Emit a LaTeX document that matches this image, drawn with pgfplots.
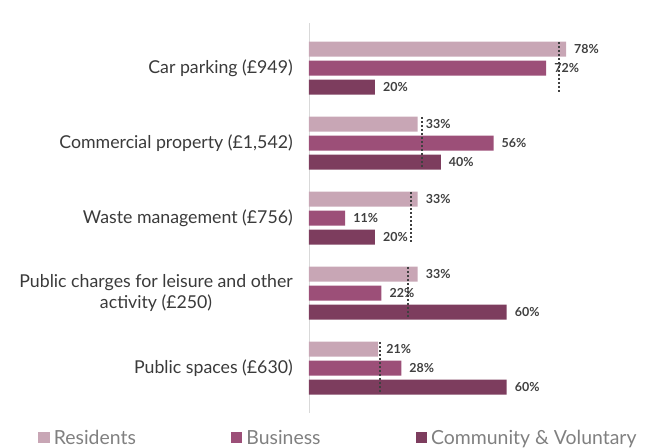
\documentclass[border=0pt]{standalone}
\usepackage{pgfplots}
\pgfplotsset{compat=1.18}
\usepackage{fontspec}
\setmainfont{Lato}

\definecolor{resid}{HTML}{C8A6B5}
\definecolor{busin}{HTML}{9C4F78}
\definecolor{commu}{HTML}{7D3D5E}
\definecolor{labtxt}{HTML}{3A3A3A}
\definecolor{valtxt}{HTML}{404040}
\definecolor{legtxt}{HTML}{808080}

\begin{document}
\begin{tikzpicture}
\begin{axis}[
    name=ax,
    scale only axis,
    width=329.5bp, height=390bp,
    xbar, bar width=15bp,
    xmin=0, xmax=100,
    ymin=-0.6, ymax=4.6,
    y dir=reverse,
    hide x axis,
    axis y line*=left,
    y axis line style={draw=black!15, line width=0.8bp},
    ytick={0,1,2,3,4},
    yticklabels={{Car parking (£949)},{Commercial property (£1,542)},{Waste management (£756)},{Public charges for leisure and other\\activity (£250)},{Public spaces (£630)}},
    yticklabel style={font=\fontsize{17.8}{22}\selectfont, text=labtxt, align=center, inner sep=0pt, xshift=-16bp},
    major tick length=0pt,
    y tick style={draw=none},
    nodes near coords={\pgfmathprintnumber[assume math mode=true]{\pgfplotspointmeta}\%},
    nodes near coords style={font=\fontsize{12.5}{14}\selectfont\bfseries, text=valtxt, anchor=west, inner sep=0pt, xshift=8bp},
    legend columns=3,
    legend style={draw=none, fill=none, inner sep=0pt, anchor=west, at={(-0.822,-0.0655)},
        font=\fontsize{19.5}{21}\selectfont, text=legtxt,
        /tikz/every odd column/.append style={column sep=2bp},
        /tikz/every even column/.append style={column sep=93bp}},
    legend image code/.code={\fill[#1] (0bp,-4.5bp) rectangle (11.5bp,6.5bp);},
]
\addplot[fill=resid, draw=none, bar shift=19bp] coordinates {(78,0) (33,1) (33,2) (33,3) (21,4)};
\addplot[fill=busin, draw=none, bar shift=0bp] coordinates {(72,0) (56,1) (11,2) (22,3) (28,4)};
\addplot[fill=commu, draw=none, bar shift=-19bp] coordinates {(20,0) (40,1) (20,2) (60,3) (60,4)};
\legend{Residents,Business,Community \& Voluntary}

% average markers
\addplot[forget plot, sharp plot, no marks, nodes near coords={}, draw=valtxt, line width=2bp, dash pattern=on 2bp off 2bp] coordinates {(76,-0.35) (76,0.32)};
\addplot[forget plot, sharp plot, no marks, nodes near coords={}, draw=valtxt, line width=2bp, dash pattern=on 2bp off 2bp] coordinates {(34.4,0.65) (34.4,1.32)};
\addplot[forget plot, sharp plot, no marks, nodes near coords={}, draw=valtxt, line width=2bp, dash pattern=on 2bp off 2bp] coordinates {(31,1.65) (31,2.32)};
\addplot[forget plot, sharp plot, no marks, nodes near coords={}, draw=valtxt, line width=2bp, dash pattern=on 2bp off 2bp] coordinates {(30,2.65) (30,3.32)};
\addplot[forget plot, sharp plot, no marks, nodes near coords={}, draw=valtxt, line width=2bp, dash pattern=on 2bp off 2bp] coordinates {(21.5,3.65) (21.5,4.32)};
\end{axis}
\pgfresetboundingbox
\path ([xshift=-309bp,yshift=-35bp]ax.south west) rectangle ([xshift=14.5bp,yshift=23bp]ax.north east);
\end{tikzpicture}
\end{document}
